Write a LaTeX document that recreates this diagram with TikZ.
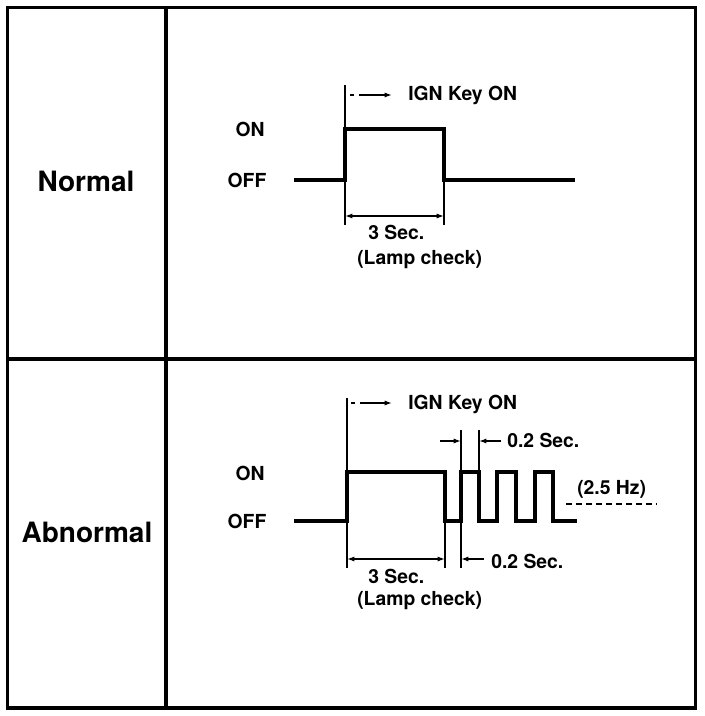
\documentclass[tikz,border=0pt]{standalone}
\usepackage{fontspec}
\setmainfont{TeX Gyre Heros}
\usetikzlibrary{arrows.meta}
\begin{document}
\begin{tikzpicture}[x=0.75pt,y=-0.75pt,
  frame/.style={line width=2.4pt},
  wave/.style={line width=2.8pt,line join=miter,line cap=rect},
  ext/.style={line width=0.8pt},
  dim/.style={line width=1pt,{Latex[length=5.5pt,width=3.8pt]}-{Latex[length=5.5pt,width=3.8pt]}},
  dimr/.style={line width=1pt,-{Latex[length=5.5pt,width=3.8pt]}},
  keyarrow/.style={line width=1pt,dash pattern=on 3pt off 4pt on 30pt,-{Latex[length=5.5pt,width=3.8pt]}},
  big/.style={font=\fontsize{21}{25}\selectfont\bfseries},
  lbl/.style={font=\fontsize{14.5}{17}\selectfont\bfseries,inner sep=0pt}]
\useasboundingbox (0,0) rectangle (704,716);
% frame
\draw[frame] (7.5,7.5) rectangle (695.5,708);
\draw[frame] (166,7.5) -- (166,708);
\draw[frame] (7.5,359) -- (695.5,359);
% row titles
\node[big,anchor=base] (normal) at (86,192) {Normal};
\node[big,anchor=base] (abnormal) at (87,542) {Abnormal};

% ---------- Normal ----------
\node[lbl,anchor=base] (on1) at (250,137) {ON};
\node[lbl,anchor=base] (off1) at (247,188) {OFF};
\coordinate (n0) at (296,180);
\coordinate (n1) at (345,180);
\coordinate (n2) at (345,129);
\coordinate (n3) at (444,129);
\coordinate (n4) at (444,180);
\coordinate (n5) at (573,180);
\draw[wave] (n0) -- (n1) -- (n2) -- (n3) -- (n4) -- (n5);
\coordinate (nt) at (345,85);
\draw[ext] (n2) -- (nt);
\coordinate (nk0) at (350,95);
\coordinate (nk1) at (392,95);
\draw[keyarrow] (nk0) -- (nk1);
\node[lbl,anchor=base west] (ign1) at (408,101) {IGN Key ON};
\coordinate (nb1) at (345,225);
\coordinate (nb2) at (444,225);
\draw[ext] (n1) -- (nb1);
\draw[ext] (n4) -- (nb2);
\coordinate (nd1) at (345,216);
\coordinate (nd2) at (444,216);
\draw[dim] (nd1) -- (nd2);
\node[lbl,anchor=base west] (s31) at (368,240) {3 Sec.};
\node[lbl,anchor=base west] (lc1) at (357,264) {(Lamp check)};

% ---------- Abnormal ----------
\node[lbl,anchor=base] (on2) at (250,480) {ON};
\node[lbl,anchor=base] (off2) at (247,528) {OFF};
\coordinate (a0) at (296,521);
\coordinate (a1) at (347,521);
\coordinate (a2) at (347,472);
\coordinate (a3) at (445,472);
\coordinate (a4) at (445,521);
\coordinate (a5) at (461,521);
\coordinate (a6) at (461,472);
\coordinate (a7) at (479,472);
\coordinate (a8) at (479,521);
\coordinate (a9) at (497,521);
\coordinate (a10) at (497,472);
\coordinate (a11) at (516,472);
\coordinate (a12) at (516,521);
\coordinate (a13) at (535,521);
\coordinate (a14) at (535,472);
\coordinate (a15) at (553,472);
\coordinate (a16) at (553,521);
\coordinate (a17) at (575,521);
\draw[wave] (a0) -- (a1) -- (a2) -- (a3) -- (a4) -- (a5) -- (a6) -- (a7) -- (a8)
  -- (a9) -- (a10) -- (a11) -- (a12) -- (a13) -- (a14) -- (a15) -- (a16) -- (a17);
% dotted continuation
\coordinate (hz0) at (566,504);
\coordinate (hz1) at (657,504);
\draw[line width=1.3pt,dash pattern=on 4.5pt off 3pt] (hz0) -- (hz1);
\node[lbl,anchor=base west] (hz) at (577,494) {(2.5 Hz)};
% IGN key
\coordinate (at) at (347,398);
\draw[ext] (a2) -- (at);
\coordinate (ak0) at (351,403);
\coordinate (ak1) at (392,403);
\draw[keyarrow] (ak0) -- (ak1);
\node[lbl,anchor=base west] (ign2) at (408,409) {IGN Key ON};
% top 0.2 sec
\coordinate (u1) at (461,430);
\coordinate (u2) at (479,430);
\draw[ext] (a6) -- (u1);
\draw[ext] (a7) -- (u2);
\coordinate (ua0) at (440,441);
\coordinate (ua1) at (461,441);
\coordinate (ub0) at (501,441);
\coordinate (ub1) at (479,441);
\draw[dimr] (ua0) -- (ua1);
\draw[dimr] (ub0) -- (ub1);
\node[lbl,anchor=base west] (s02a) at (507,447) {0.2 Sec.};
% bottom
\coordinate (b1) at (347,568);
\coordinate (b2) at (445,568);
\coordinate (b3) at (461,568);
\draw[ext] (a1) -- (b1);
\draw[ext] (a4) -- (b2);
\draw[ext] (a5) -- (b3);
\coordinate (bd1) at (347,559);
\coordinate (bd2) at (445,559);
\draw[dim] (bd1) -- (bd2);
\coordinate (bc0) at (484,559);
\coordinate (bc1) at (461,559);
\draw[dimr] (bc0) -- (bc1);
\node[lbl,anchor=base west] (s02b) at (491,568) {0.2 Sec.};
\node[lbl,anchor=base west] (s32) at (368,583) {3 Sec.};
\node[lbl,anchor=base west] (lc2) at (357,605) {(Lamp check)};
\end{tikzpicture}
\end{document}
